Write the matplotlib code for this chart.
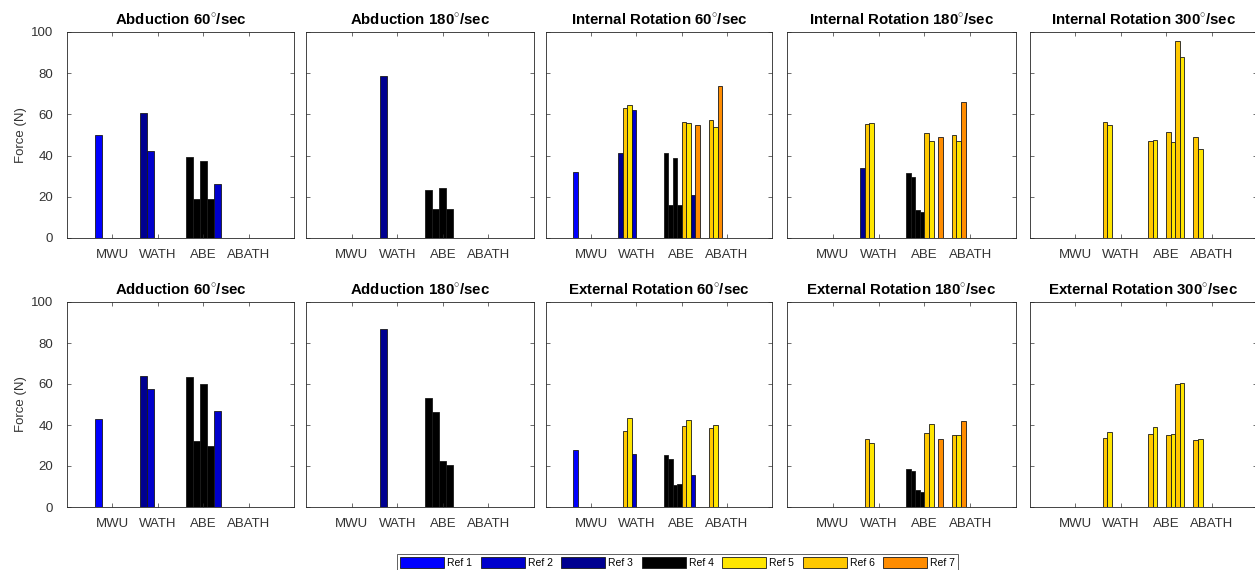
import matplotlib
matplotlib.use("Agg")
import matplotlib.pyplot as plt
from matplotlib.patches import Patch

plt.rcParams['font.family'] = ['Liberation Sans', 'DejaVu Sans']
plt.rcParams['mathtext.fontset'] = 'custom'
plt.rcParams['mathtext.rm'] = 'Liberation Sans'

groups = ['MWU', 'WATH', 'ABE', 'ABATH']
ref_labels = ['Ref 1', 'Ref 2', 'Ref 3', 'Ref 4', 'Ref 5', 'Ref 6', 'Ref 7']
ref_colors = ['#0000ff', '#0000cc', '#000090', '#000000', '#ffe600', '#ffc800', '#ff8c00']

# values per group (rows) and slot (columns); refs: 1..7, 0 = no study
abd60_vals = [[50.0, 0, 0, 0, 0], [60.5, 42.4, 0, 0, 0], [39.1, 19.0, 37.2, 19.0, 26.3], [0, 0, 0, 0, 0]]
abd60_refs = [[1, 0, 0, 0, 0], [3, 2, 0, 0, 0], [4, 4, 4, 4, 2], [0, 0, 0, 0, 0]]

abd180_vals = [[0, 0, 0, 0, 0], [78.6, 0, 0, 0, 0], [23.5, 14.3, 24.3, 14.3, 0], [0, 0, 0, 0, 0]]
abd180_refs = [[0, 0, 0, 0, 0], [3, 0, 0, 0, 0], [4, 4, 4, 4, 0], [0, 0, 0, 0, 0]]

ir60_vals = [[31.8, 0, 0, 0, 0, 0, 0, 0], [41.4, 63.0, 64.4, 62.0, 0, 0, 0, 0],
             [41.4, 16.2, 38.6, 16.2, 56.2, 55.7, 20.8, 54.9], [57.1, 53.9, 73.8, 0, 0, 0, 0, 0]]
ir60_refs = [[1, 0, 0, 0, 0, 0, 0, 0], [3, 6, 5, 2, 0, 0, 0, 0],
             [4, 4, 4, 4, 6, 5, 3, 7], [6, 5, 7, 0, 0, 0, 0, 0]]

ir180_vals = [[0, 0, 0, 0, 0, 0, 0, 0], [33.8, 55.4, 55.8, 0, 0, 0, 0, 0],
              [31.5, 29.6, 13.5, 12.5, 51.1, 47.2, 0, 49.2], [50.1, 47.2, 65.9, 0, 0, 0, 0, 0]]
ir180_refs = [[0, 0, 0, 0, 0, 0, 0, 0], [3, 6, 5, 0, 0, 0, 0, 0],
              [4, 4, 4, 4, 6, 5, 0, 7], [6, 5, 7, 0, 0, 0, 0, 0]]

ir300_vals = [[0, 0, 0, 0, 0, 0, 0, 0], [56.2, 54.7, 0, 0, 0, 0, 0, 0],
              [47.1, 47.6, 0, 0, 51.5, 46.6, 95.4, 87.8], [49.0, 43.3, 0, 0, 0, 0, 0, 0]]
ir300_refs = [[0, 0, 0, 0, 0, 0, 0, 0], [6, 5, 0, 0, 0, 0, 0, 0],
              [6, 5, 0, 0, 6, 5, 6, 5], [6, 5, 0, 0, 0, 0, 0, 0]]

add60_vals = [[42.8, 0, 0, 0, 0], [63.9, 57.6, 0, 0, 0], [63.5, 32.1, 60.0, 29.9, 46.6], [0, 0, 0, 0, 0]]
add60_refs = [[1, 0, 0, 0, 0], [3, 2, 0, 0, 0], [4, 4, 4, 4, 2], [0, 0, 0, 0, 0]]

add180_vals = [[0, 0, 0, 0, 0], [86.8, 0, 0, 0, 0], [53.0, 46.5, 22.5, 20.7, 0], [0, 0, 0, 0, 0]]
add180_refs = [[0, 0, 0, 0, 0], [3, 0, 0, 0, 0], [4, 4, 4, 4, 0], [0, 0, 0, 0, 0]]

er60_vals = [[27.7, 0, 0, 0, 0, 0, 0, 0], [0, 36.9, 43.2, 25.9, 0, 0, 0, 0],
             [25.6, 23.5, 10.6, 11.4, 39.3, 42.3, 15.8, 0], [38.3, 39.8, 0, 0, 0, 0, 0, 0]]
er60_refs = [[1, 0, 0, 0, 0, 0, 0, 0], [0, 6, 5, 2, 0, 0, 0, 0],
             [4, 4, 4, 4, 6, 5, 2, 0], [6, 5, 0, 0, 0, 0, 0, 0]]

er180_vals = [[0, 0, 0, 0, 0, 0, 0, 0], [0, 33.0, 31.2, 0, 0, 0, 0, 0],
              [18.3, 17.5, 8.2, 7.4, 35.9, 40.3, 0, 33.4], [35.1, 35.1, 41.8, 0, 0, 0, 0, 0]]
er180_refs = [[0, 0, 0, 0, 0, 0, 0, 0], [0, 6, 5, 0, 0, 0, 0, 0],
              [4, 4, 4, 4, 6, 5, 0, 7], [6, 5, 7, 0, 0, 0, 0, 0]]

er300_vals = [[0, 0, 0, 0, 0, 0, 0, 0], [33.9, 36.4, 0, 0, 0, 0, 0, 0],
              [35.6, 38.8, 0, 0, 35.1, 35.4, 59.9, 60.4], [32.6, 33.0, 0, 0, 0, 0, 0, 0]]
er300_refs = [[0, 0, 0, 0, 0, 0, 0, 0], [6, 5, 0, 0, 0, 0, 0, 0],
              [6, 5, 0, 0, 6, 5, 6, 5], [6, 5, 0, 0, 0, 0, 0, 0]]

panels = [
    ('Abduction 60$^{\\circ}$/sec', abd60_vals, abd60_refs),
    ('Abduction 180$^{\\circ}$/sec', abd180_vals, abd180_refs),
    ('Internal Rotation 60$^{\\circ}$/sec', ir60_vals, ir60_refs),
    ('Internal Rotation 180$^{\\circ}$/sec', ir180_vals, ir180_refs),
    ('Internal Rotation 300$^{\\circ}$/sec', ir300_vals, ir300_refs),
    ('Adduction 60$^{\\circ}$/sec', add60_vals, add60_refs),
    ('Adduction 180$^{\\circ}$/sec', add180_vals, add180_refs),
    ('External Rotation 60$^{\\circ}$/sec', er60_vals, er60_refs),
    ('External Rotation 180$^{\\circ}$/sec', er180_vals, er180_refs),
    ('External Rotation 300$^{\\circ}$/sec', er300_vals, er300_refs),
]

W, H = 1255, 570
fig = plt.figure(figsize=(W / 100, H / 100), dpi=100)

col_px = [(67, 294), (306, 534), (546, 772), (787, 1016), (1030, 1257)]
row_px = [(32, 238), (302, 507)]
grey = '0.2'

for i, (title, vals, refs) in enumerate(panels):
    r, c = divmod(i, 5)
    x0, x1 = col_px[c]
    y0, y1 = row_px[r]
    ax = fig.add_axes([x0 / W, 1 - y1 / H, (x1 - x0) / W, (y1 - y0) / H])

    n = len(vals[0])
    gw = min(0.8, n / (n + 1.5))  # matlab grouped bar width
    bw = gw / n
    for g in range(len(groups)):
        for k in range(n):
            ref = refs[g][k]
            color = ref_colors[ref - 1] if ref > 0 else 'white'
            xpos = g + 1 - gw / 2 + (k + 0.5) * bw
            ax.bar(xpos, vals[g][k], width=bw, color=color, edgecolor='0.1', linewidth=0.6)

    ax.set_xlim(0, 5)
    ax.set_ylim(0, 100)
    ax.set_xticks(range(1, 5))
    ax.set_xticklabels(groups)
    ax.set_yticks(range(0, 101, 20))
    ax.tick_params(direction='in', length=3, width=0.5, top=True, right=True,
                   labelsize=9.5, colors=grey)
    ax.tick_params(axis='x', pad=8)
    ax.tick_params(axis='y', pad=10)
    for s in ax.spines.values():
        s.set_color('0.15')
        s.set_linewidth(0.6)
    if c == 0:
        ax.set_ylabel('Force (N)', fontsize=9.5, color=grey, labelpad=3)
    else:
        ax.set_yticklabels([])
    ax.set_title(title, fontsize=10.8, fontweight='bold', pad=5)

handles = [Patch(facecolor=ref_colors[j], edgecolor='0.1', linewidth=0.6) for j in range(7)]
leg = fig.legend(handles, ref_labels, loc='upper center', bbox_to_anchor=(0.540, 1 - 549 / H),
                 ncol=7, fontsize=7.5, handlelength=4.2, handleheight=1.25, handletextpad=0.3,
                 columnspacing=0.84, borderpad=0.3, frameon=True, fancybox=False)
leg.get_frame().set_edgecolor('0.1')
leg.get_frame().set_linewidth(0.6)

fig.savefig('out.png', dpi=100)
